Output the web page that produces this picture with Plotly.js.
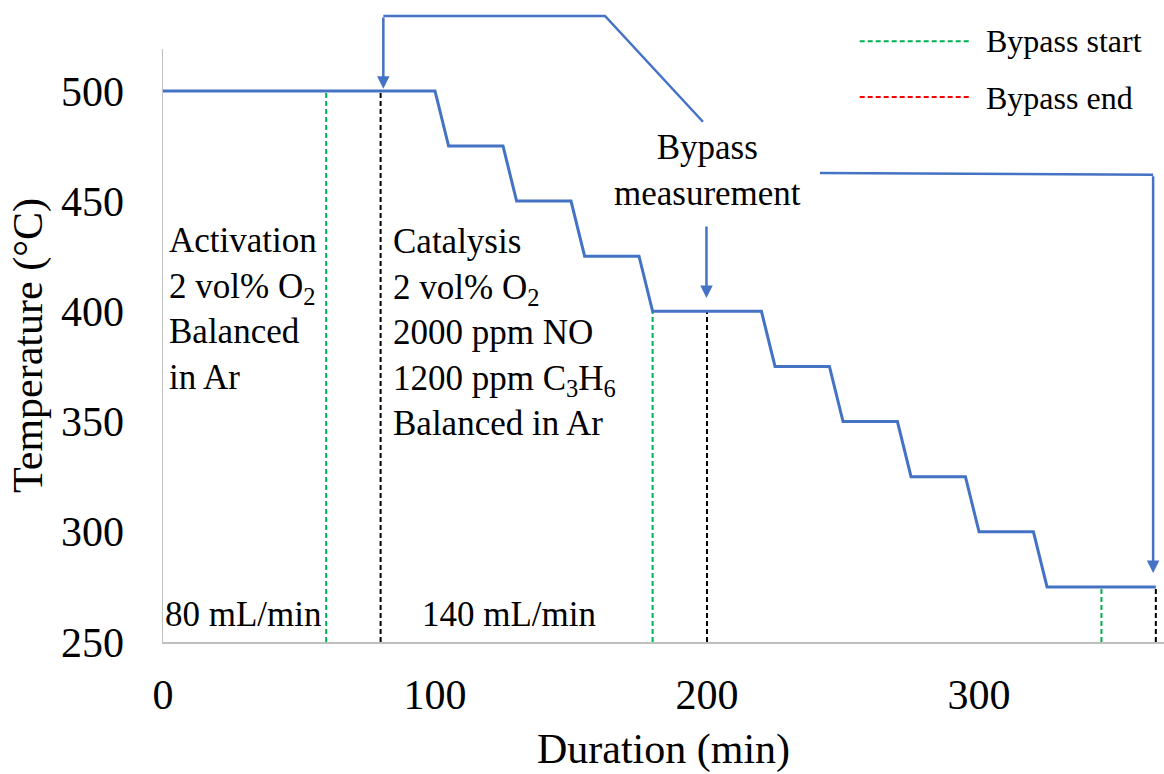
<!DOCTYPE html>
<html>
<head>
<meta charset="utf-8">
<script src="https://cdn.plot.ly/plotly-3.0.1.min.js"></script>
<style>
  html, body { margin: 0; padding: 0; background: #ffffff; }
  #chart { width: 1164px; height: 774px; }
</style>
</head>
<body>
<div id="chart"></div>
<script>
// Temperature programme: hold at 500 °C, then 25 °C steps down to 275 °C
const durationMin = [0, 100, 105, 125, 130, 150, 155, 175, 180, 220, 225, 245, 250, 270, 275, 295, 300, 320, 325, 365];
const temperatureC = [500, 500, 475, 475, 450, 450, 425, 425, 400, 400, 375, 375, 350, 350, 325, 325, 300, 300, 275, 275];

// Bypass windows (start / end times and the temperature held at that moment)
const bypassStartMin = [60, 180, 345];
const bypassEndMin = [80, 200, 365];
const bypassLevelC = [500, 400, 275];

// Axis settings
const xTicks = [0, 100, 200, 300];
const yTicks = [250, 300, 350, 400, 450, 500];
const xMax = 368;
const yMin = 250, yMax = 519;

// Callout connector routes (in minutes / °C)
const calloutTopX = [198.5, 162.5, 81];
const calloutTopY = [486, 534, 534];
const calloutTopTip = [81, 501];
const calloutRightX = [241.5, 364];
const calloutRightY = [462.8, 461.9];
const calloutRightTip = [364, 281.3];
const calloutMidX = [199.8, 199.8];
const calloutMidY = [439.2, 406.1];

const SERIF = '"Liberation Serif", "Times New Roman", serif';
const BLUE = '#4472c4';
const GREEN = '#00b050';

function verticals(xs, tops) {
  const x = [], y = [];
  xs.forEach((v, i) => { x.push(v, v, null); y.push(yMin, tops[i], null); });
  return { x, y };
}
const startLines = verticals(bypassStartMin, bypassLevelC);
const endLines = verticals(bypassEndMin, bypassLevelC);

const traces = [
  {
    x: startLines.x, y: startLines.y, mode: 'lines', name: 'Bypass start',
    line: { color: GREEN, width: 2, dash: '5px,3px' }, showlegend: false, hoverinfo: 'skip'
  },
  {
    x: endLines.x, y: endLines.y, mode: 'lines', name: 'Bypass end',
    line: { color: '#000000', width: 2, dash: '5px,3px' }, showlegend: false, hoverinfo: 'skip'
  },
  {
    x: durationMin, y: temperatureC, mode: 'lines', name: 'Temperature',
    line: { color: BLUE, width: 3 }, showlegend: false
  }
];

// data -> paper conversion for drawings that leave the plotting area
const px = v => v / xMax;
const py = v => (v - yMin) / (yMax - yMin);
function pathFrom(xs, ys) {
  return xs.map((v, i) => (i ? 'L' : 'M') + px(v) + ',' + py(ys[i])).join(' ');
}

const shapes = [
  { type: 'path', xref: 'paper', yref: 'paper', path: pathFrom(calloutTopX, calloutTopY),
    line: { color: BLUE, width: 2.5 } },
  { type: 'path', xref: 'paper', yref: 'paper', path: pathFrom(calloutRightX, calloutRightY),
    line: { color: BLUE, width: 2.5 } },
  // legend keys
  { type: 'line', xref: 'paper', yref: 'paper', x0: 0.696, x1: 0.805, y0: 1.013, y1: 1.013,
    line: { color: GREEN, width: 2, dash: '5px,3px' } },
  { type: 'line', xref: 'paper', yref: 'paper', x0: 0.696, x1: 0.805, y0: 0.919, y1: 0.919,
    line: { color: '#ff0000', width: 2, dash: '5px,3px' } }
];

function arrow(tailX, tailY, tip) {
  return {
    x: tip[0], y: tip[1], ax: tailX, ay: tailY, xref: 'x', yref: 'y', axref: 'x', ayref: 'y',
    text: '', showarrow: true, arrowhead: 2, arrowsize: 1, arrowwidth: 2.5, arrowcolor: BLUE, standoff: 0
  };
}

const textFont = { family: SERIF, size: 35, color: '#000000' };
const annotations = [
  arrow(calloutTopX[2], calloutTopY[2], calloutTopTip),
  arrow(calloutRightX[1], calloutRightY[1], calloutRightTip),
  arrow(calloutMidX[0], calloutMidY[0], [calloutMidX[1], calloutMidY[1]]),
  { x: 1.5, y: 401, xref: 'x', yref: 'y', xanchor: 'left', yanchor: 'middle', align: 'left', showarrow: false,
    text: 'Activation<br>2 vol% O<sub>2</sub><br>Balanced<br>in Ar', font: textFont },
  { x: 84, y: 390.5, xref: 'x', yref: 'y', xanchor: 'left', yanchor: 'middle', align: 'left', showarrow: false,
    text: 'Catalysis<br>2 vol% O<sub>2</sub><br>2000 ppm NO<br>1200 ppm C<sub>3</sub>H<sub>6</sub><br>Balanced in Ar', font: textFont },
  { x: 0, y: 262.5, xref: 'x', yref: 'y', xanchor: 'left', yanchor: 'middle', showarrow: false,
    text: '80 mL/min', font: textFont },
  { x: 127.2, y: 262.5, xref: 'x', yref: 'y', xanchor: 'center', yanchor: 'middle', showarrow: false,
    text: '140 mL/min', font: textFont },
  { x: 200, y: 464, xref: 'x', yref: 'y', xanchor: 'center', yanchor: 'middle', align: 'center', showarrow: false,
    text: 'Bypass<br>measurement', font: textFont },
  // legend labels
  { x: 0.820, y: 1.013, xref: 'paper', yref: 'paper', xanchor: 'left', yanchor: 'middle', showarrow: false,
    text: 'Bypass start', font: { family: SERIF, size: 32, color: '#000000' } },
  { x: 0.820, y: 0.917, xref: 'paper', yref: 'paper', xanchor: 'left', yanchor: 'middle', showarrow: false,
    text: 'Bypass end', font: { family: SERIF, size: 32, color: '#000000' } }
];

const axisFont = { family: SERIF, size: 42, color: '#000000' };
const layout = {
  width: 1164, height: 774,
  margin: { l: 163, r: 0, t: 49, b: 132 },
  paper_bgcolor: '#ffffff', plot_bgcolor: '#ffffff',
  showlegend: false,
  xaxis: {
    range: [0, xMax], tickvals: xTicks, ticktext: xTicks.map(String),
    showgrid: false, zeroline: false, showline: true, linecolor: '#bfbfbf', linewidth: 1.5,
    ticks: '', ticklabelstandoff: 15, tickfont: axisFont,
    title: { text: 'Duration (min)', font: axisFont, standoff: 16 }
  },
  yaxis: {
    range: [yMin, yMax], tickvals: yTicks, ticktext: yTicks.map(String),
    showgrid: false, zeroline: false, showline: true, linecolor: '#bfbfbf', linewidth: 1.5,
    ticks: '', ticklabelstandoff: 29, tickfont: axisFont,
    title: { text: 'Temperature (°C)', font: axisFont, standoff: 5 }
  },
  shapes: shapes,
  annotations: annotations
};

Plotly.newPlot('chart', traces, layout, { staticPlot: true, displayModeBar: false });
</script>
</body>
</html>
